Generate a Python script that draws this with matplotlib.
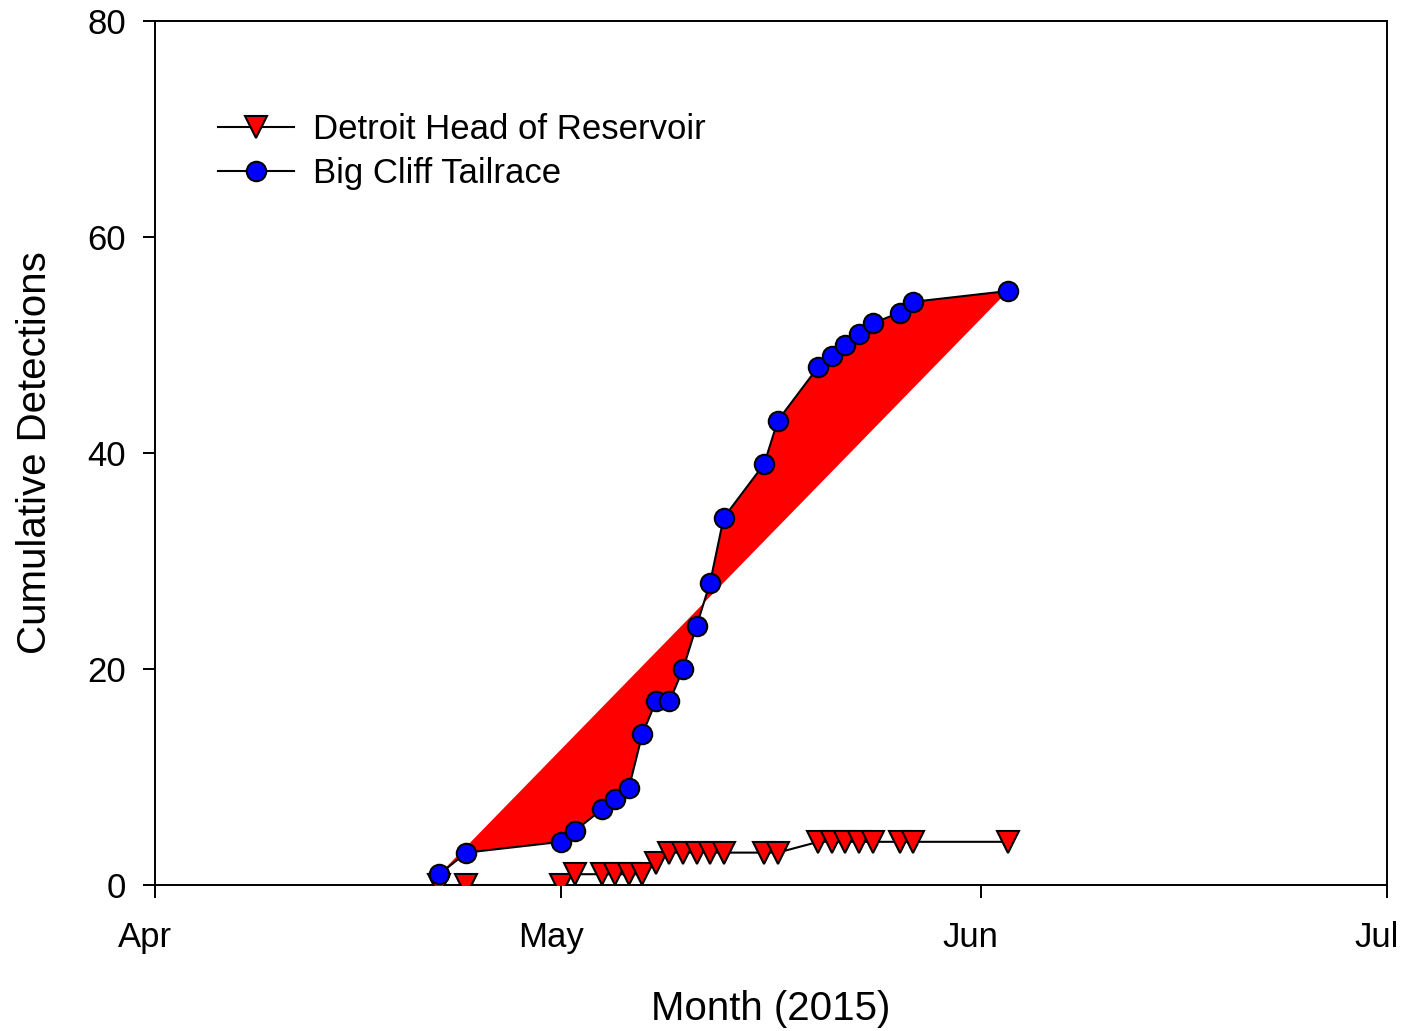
import datetime as dt
import matplotlib
matplotlib.use("Agg")
import matplotlib.pyplot as plt
import matplotlib.dates as mdates
from matplotlib.transforms import ScaledTranslation

plt.rcParams['font.family'] = ['Liberation Sans', 'DejaVu Sans']

# detection dates (2015) shared by both receivers
days = [(4, 22), (4, 24), (5, 1), (5, 2), (5, 4), (5, 5), (5, 6), (5, 7),
        (5, 8), (5, 9), (5, 10), (5, 11), (5, 12), (5, 13), (5, 16), (5, 17),
        (5, 20), (5, 21), (5, 22), (5, 23), (5, 24), (5, 26), (5, 27), (6, 3)]
dates = [dt.datetime(2015, m, d) for m, d in days]

detroit_head = [0, 0, 0, 1, 1, 1, 1, 1, 2, 3, 3, 3, 3, 3, 3, 3,
                4, 4, 4, 4, 4, 4, 4, 4]
big_cliff = [1, 3, 4, 5, 7, 8, 9, 14, 17, 17, 20, 24, 28, 34, 39, 43,
             48, 49, 50, 51, 52, 53, 54, 55]

fig = plt.figure(figsize=(14.02, 10.31), dpi=100)
ax = fig.add_axes([0.1106, 0.1416, 0.8787, 0.838])

xd = mdates.date2num(dates)
ax.fill(xd, big_cliff, color='red', lw=0, zorder=1)

l1, = ax.plot(xd, detroit_head, color='black', lw=1.5, marker='v',
              markersize=16, markerfacecolor='red', markeredgecolor='black',
              markeredgewidth=1.5, zorder=3, label='Detroit Head of Reservoir')
l2, = ax.plot(xd, big_cliff, color='black', lw=1.5, marker='o',
              markersize=14, markerfacecolor='blue', markeredgecolor='black',
              markeredgewidth=1.5, zorder=4, label='Big Cliff Tailrace')

ax.set_xlim(mdates.date2num(dt.datetime(2015, 4, 1)),
            mdates.date2num(dt.datetime(2015, 7, 1)))
ax.set_ylim(0, 80)
ax.xaxis.set_major_locator(mdates.MonthLocator())
ax.xaxis.set_major_formatter(mdates.DateFormatter('%b'))
ax.set_yticks([0, 20, 40, 60, 80])

for s in ax.spines.values():
    s.set_linewidth(1.4)
ax.tick_params(axis='x', direction='out', length=9, width=1.4, pad=17,
               labelsize=25, top=False)
ax.tick_params(axis='y', direction='out', length=9, width=1.4, pad=12,
               labelsize=25, right=False)

# shift month names a little to the left of their ticks
shift = ScaledTranslation(-10 / 100, 0, fig.dpi_scale_trans)
for tick in ax.xaxis.get_major_ticks():
    tick.label1.set_transform(tick.label1.get_transform() + shift)

ax.set_xlabel('Month (2015)', fontsize=29, labelpad=26)
ax.set_ylabel('Cumulative Detections', fontsize=29, labelpad=24)

ax.legend(handles=[l1, l2], loc='upper left', bbox_to_anchor=(0.051, 0.893),
          frameon=False, fontsize=25, handlelength=2.2, handletextpad=0.55,
          labelspacing=0.3, borderpad=0, borderaxespad=0)

fig.savefig('out.png', dpi=100)
